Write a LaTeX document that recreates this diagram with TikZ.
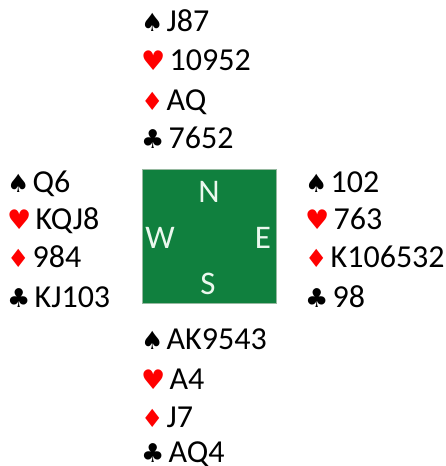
\documentclass[tikz,border=0pt]{standalone}
\usepackage{fontspec}
\setmainfont{Carlito}
\newfontfamily\suitfont{DejaVu Sans}
\definecolor{felt}{RGB}{16,128,62}
\definecolor{feltedge}{RGB}{150,185,160}
\definecolor{suitred}{RGB}{255,0,0}
\definecolor{lettercol}{RGB}{235,248,238}
\newcommand{\spd}{\makebox[25.5pt][l]{\suitfont\fontsize{25}{25}\selectfont\color{black}♠}}
\newcommand{\hrt}{\makebox[28.5pt][l]{\suitfont\fontsize{27}{27}\selectfont\color{suitred}♥}}
\newcommand{\dmd}{\makebox[25.5pt][l]{\suitfont\fontsize{25}{25}\selectfont\color{suitred}♦}}
\newcommand{\clb}{\makebox[27.5pt][l]{\suitfont\fontsize{26}{26}\selectfont\color{black}♣}}
\begin{document}
\begin{tikzpicture}[x=1pt,y=-1pt,
  handline/.style={anchor=base west,inner sep=0pt,font=\fontsize{32}{32}\selectfont},
  compass/.style={inner sep=0pt,text=lettercol,font=\fontsize{33}{33}\selectfont}]
\useasboundingbox (0,0) rectangle (446,466);
% table
\node[draw=feltedge,line width=0.8pt,fill=felt,minimum width=134pt,minimum height=134pt,inner sep=0pt] (table) at (209.5,236) {};
\node[compass] (N) at (209,192) {N};
\node[compass] (W) at (160,238) {W};
\node[compass] (E) at (263,238) {E};
\node[compass] (S) at (208,284) {S};
% North
\node[handline] (n1) at (141,31) {\spd J87};
\node[handline] (n2) at (141,70) {\hrt 10952};
\node[handline] (n3) at (141,110) {\dmd AQ};
\node[handline] (n4) at (141,148) {\clb 7652};
% West
\node[handline] (w1) at (7,192) {\spd Q6};
\node[handline] (w2) at (7,229) {\hrt KQJ8};
\node[handline] (w3) at (7,267) {\dmd 984};
\node[handline] (w4) at (7,307) {\clb KJ103};
% East
\node[handline] (e1) at (305,192) {\spd 102};
\node[handline] (e2) at (305,229) {\hrt 763};
\node[handline] (e3) at (305,267) {\dmd K106532};
\node[handline] (e4) at (305,307) {\clb 98};
% South
\node[handline] (s1) at (141,349) {\spd AK9543};
\node[handline] (s2) at (141,389) {\hrt A4};
\node[handline] (s3) at (141,427) {\dmd J7};
\node[handline] (s4) at (141,462) {\clb AQ4};
\end{tikzpicture}
\end{document}
